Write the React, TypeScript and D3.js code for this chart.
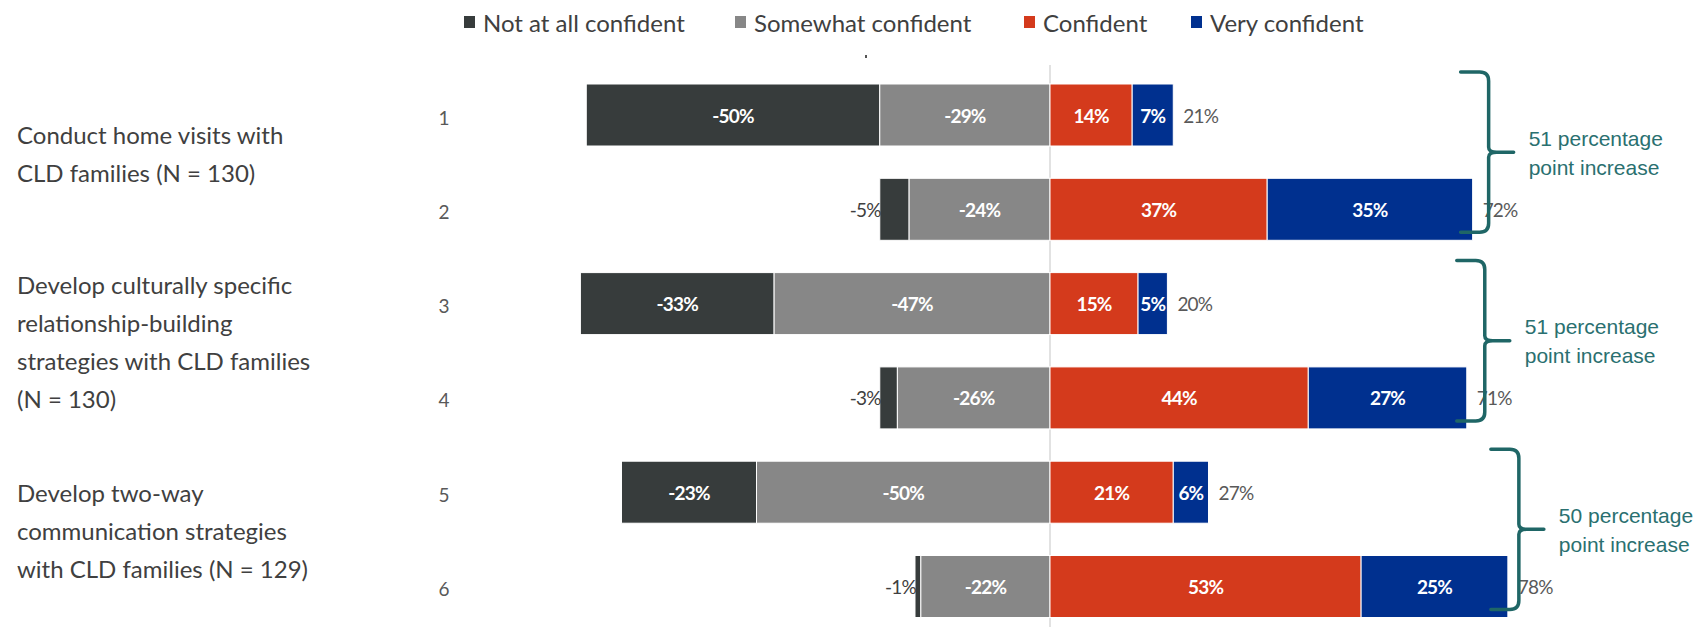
import React from "react";
import * as d3 from "d3";

const rowLabels = ["1", "2", "3", "4", "5", "6"];
const notAtAll = [50, 5, 33, 3, 23, 1];
const somewhat = [29, 24, 47, 26, 50, 22];
const confident = [14, 37, 15, 44, 21, 53];
const veryConfident = [7, 35, 5, 27, 6, 25];
const totals = [21, 72, 20, 71, 27, 78];
const seriesNames = ["Not at all confident", "Somewhat confident", "Confident", "Very confident"];
const seriesColors = ["#373c3c", "#878787", "#d43a1c", "#00308f"];
const groupLabels = [
  ["Conduct home visits with", "CLD families (N = 130)"],
  ["Develop culturally specific", "relationship-building", "strategies with CLD families", "(N = 130)"],
  ["Develop two-way", "communication strategies", "with CLD families (N = 129)"],
];
const increases = [51, 51, 50];
const braceOffsets = [16, 18, 11];

const W = 1706;
const H = 627;
const TEAL = "#1f6666";
const LABEL_FONT = "Lato, 'Open Sans', sans-serif";

export default function App() {
  const x = d3.scaleLinear().domain([-80, 80]).range([580.4, 1519.6]);
  const y = d3.scalePoint<string>().domain(rowLabels).range([115, 586.5]);
  const barH = 62;

  const legendX = [464, 735, 1024, 1191];

  const rows = rowLabels.map((r, i) => {
    const cy = y(r) as number;
    const segs = [
      { v: notAtAll[i], x0: x(-(notAtAll[i] + somewhat[i])), x1: x(-somewhat[i]), c: seriesColors[0], neg: true },
      { v: somewhat[i], x0: x(-somewhat[i]), x1: x(0), c: seriesColors[1], neg: true },
      { v: confident[i], x0: x(0), x1: x(confident[i]), c: seriesColors[2], neg: false },
      { v: veryConfident[i], x0: x(confident[i]), x1: x(confident[i] + veryConfident[i]), c: seriesColors[3], neg: false },
    ];
    return { r, i, cy, segs };
  });

  const braceGroups = [0, 1, 2].map((g) => {
    const a = rowLabels[g * 2];
    const b = rowLabels[g * 2 + 1];
    const top = (y(a) as number) - barH / 2 - 12;
    const bottom = (y(b) as number) + barH / 2 - 8;
    const maxT = Math.max(totals[g * 2], totals[g * 2 + 1]);
    const vx = x(maxT) + braceOffsets[g];
    const mid = (top + bottom) / 2;
    const hook = 28;
    const tip = 25;
    const r = 9;
    const path = [
      `M${vx - hook},${top}`,
      `L${vx - r},${top}`,
      `Q${vx},${top} ${vx},${top + r}`,
      `L${vx},${mid - 5}`,
      `Q${vx},${mid} ${vx + 8},${mid}`,
      `L${vx + tip},${mid}`,
      `M${vx + 8},${mid}`,
      `Q${vx},${mid} ${vx},${mid + 5}`,
      `L${vx},${bottom - r}`,
      `Q${vx},${bottom} ${vx - r},${bottom}`,
      `L${vx - hook},${bottom}`,
    ].join(" ");
    return { g, top, bottom, vx, mid, path };
  });

  return (
    <svg width={W} height={H} style={{ position: "fixed", left: 0, top: 0, background: "#fff" }}>
      <rect x={0} y={0} width={W} height={H} fill="#fff" />
      {/* legend */}
      {seriesNames.map((n, k) => (
        <g key={n}>
          <rect x={legendX[k]} y={16} width={11} height={12} fill={seriesColors[k]} />
          <text x={legendX[k] + 19} y={22} dominantBaseline="central" fontFamily={LABEL_FONT} fontSize={24} fill="#404040">
            {n}
          </text>
        </g>
      ))}
      <rect x={865} y={55} width={2} height={3} fill="#555" />
      {/* zero line */}
      <line x1={x(0)} x2={x(0)} y1={65} y2={H} stroke="#d9d9d9" strokeWidth={1.5} />
      {/* group labels */}
      {groupLabels.map((lines, g) => {
        const midRows = ((y(rowLabels[g * 2]) as number) + (y(rowLabels[g * 2 + 1]) as number)) / 2 - 9;
        const start = midRows - ((lines.length - 1) * 38) / 2;
        return lines.map((t, j) => (
          <text key={g + "-" + j} x={17} y={start + j * 38} dominantBaseline="central" fontFamily={LABEL_FONT} fontSize={24} fill="#404040">
            {t}
          </text>
        ));
      })}
      {/* row numbers */}
      {rows.map((row) => (
        <text key={"n" + row.r} x={444} y={row.cy + 2} textAnchor="middle" dominantBaseline="central" fontFamily={LABEL_FONT} fontSize={19} fill="#595959">
          {row.r}
        </text>
      ))}
      {/* bars */}
      {rows.map((row) => (
        <g key={"b" + row.r}>
          {row.segs.map((s, k) => (
            <rect key={k} x={s.x0} y={row.cy - barH / 2} width={Math.max(0, s.x1 - s.x0)} height={barH} fill={s.c} stroke="#fff" strokeWidth={1} />
          ))}
          {row.segs.map((s, k) => {
            const w = s.x1 - s.x0;
            const label = (s.neg ? "-" : "") + s.v + "%";
            if (k === 0 && w < 32) {
              return (
                <text key={"l" + k} x={s.x0 + 1} y={row.cy} textAnchor="end" dominantBaseline="central" fontFamily={LABEL_FONT} fontSize={19} fill="#404040" letterSpacing={-0.8}>
                  {label}
                </text>
              );
            }
            return (
              <text key={"l" + k} x={(s.x0 + s.x1) / 2} y={row.cy} textAnchor="middle" dominantBaseline="central" fontFamily={LABEL_FONT} fontWeight="bold" fontSize={19} fill="#fff" letterSpacing={-0.8}>
                {label}
              </text>
            );
          })}
          <text x={x(totals[row.i]) + 10} y={row.cy} dominantBaseline="central" fontFamily={LABEL_FONT} fontSize={19} fill="#595959" letterSpacing={-0.8}>
            {totals[row.i] + "%"}
          </text>
        </g>
      ))}
      {/* braces and annotations */}
      {braceGroups.map((b) => (
        <g key={"br" + b.g}>
          <path d={b.path} fill="none" stroke={TEAL} strokeWidth={3.5} strokeLinecap="round" strokeLinejoin="round" />
          <text x={b.vx + 40} y={b.mid - 14} dominantBaseline="central" fontFamily="'Liberation Sans', Arial, sans-serif" fontSize={21} fill="#2a7070">
            {increases[b.g] + " percentage"}
          </text>
          <text x={b.vx + 40} y={b.mid + 15} dominantBaseline="central" fontFamily="'Liberation Sans', Arial, sans-serif" fontSize={21} fill="#2a7070">
            point increase
          </text>
        </g>
      ))}
    </svg>
  );
}
